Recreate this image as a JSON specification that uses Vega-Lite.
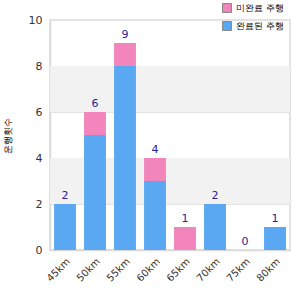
{
  "$schema": "https://vega.github.io/schema/vega-lite/v6.json",
  "autosize": "none",
  "padding": {"left": 50, "top": 20, "right": 10, "bottom": 50},
  "width": 240,
  "height": 230,
  "background": "white",
  "config": {
    "font": "DejaVu Sans",
    "view": {"stroke": "#d9d9d9", "strokeWidth": 1.5}
  },
  "datasets": {
    "bars": [
      {"dist": "45km", "type": "완료된 주행", "ord": 1, "n": 2},
      {"dist": "45km", "type": "미완료 주행", "ord": 2, "n": 0},
      {"dist": "50km", "type": "완료된 주행", "ord": 1, "n": 5},
      {"dist": "50km", "type": "미완료 주행", "ord": 2, "n": 1},
      {"dist": "55km", "type": "완료된 주행", "ord": 1, "n": 8},
      {"dist": "55km", "type": "미완료 주행", "ord": 2, "n": 1},
      {"dist": "60km", "type": "완료된 주행", "ord": 1, "n": 3},
      {"dist": "60km", "type": "미완료 주행", "ord": 2, "n": 1},
      {"dist": "65km", "type": "완료된 주행", "ord": 1, "n": 0},
      {"dist": "65km", "type": "미완료 주행", "ord": 2, "n": 1},
      {"dist": "70km", "type": "완료된 주행", "ord": 1, "n": 2},
      {"dist": "70km", "type": "미완료 주행", "ord": 2, "n": 0},
      {"dist": "75km", "type": "완료된 주행", "ord": 1, "n": 0},
      {"dist": "75km", "type": "미완료 주행", "ord": 2, "n": 0},
      {"dist": "80km", "type": "완료된 주행", "ord": 1, "n": 1},
      {"dist": "80km", "type": "미완료 주행", "ord": 2, "n": 0}
    ],
    "totals": [
      {"dist": "45km", "total": 2},
      {"dist": "50km", "total": 6},
      {"dist": "55km", "total": 9},
      {"dist": "60km", "total": 4},
      {"dist": "65km", "total": 1},
      {"dist": "70km", "total": 2},
      {"dist": "75km", "total": 0},
      {"dist": "80km", "total": 1}
    ],
    "bands": [
      {"lo": 2, "hi": 4},
      {"lo": 6, "hi": 8}
    ]
  },
  "layer": [
    {
      "data": {"name": "bands"},
      "mark": {"type": "rect", "color": "#f2f2f2"},
      "encoding": {
        "y": {"field": "lo", "type": "quantitative", "scale": {"domain": [0, 10]}},
        "y2": {"field": "hi"}
      }
    },
    {
      "data": {"name": "bars"},
      "mark": {"type": "bar"},
      "encoding": {
        "x": {
          "field": "dist", "type": "nominal", "sort": null,
          "scale": {"paddingInner": 0.27, "paddingOuter": 0.135},
          "axis": {
            "title": null, "labelAngle": -45, "labelFontSize": 10, "labelColor": "#333",
            "ticks": false, "domainColor": "#d9d9d9", "domainWidth": 1.5, "labelPadding": 6
          }
        },
        "y": {
          "field": "n", "type": "quantitative", "stack": "zero",
          "scale": {"domain": [0, 10]},
          "axis": {
            "title": "운행횟수", "titleFontSize": 9, "titleFontWeight": "normal", "titleColor": "#000",
            "titleX": -38, "titleY": 115,
            "values": [0, 2, 4, 6, 8, 10], "labelFontSize": 11, "labelColor": "#333",
            "ticks": false, "labelPadding": 8, "domainColor": "#d9d9d9", "domainWidth": 1.5,
            "gridColor": "#e3e3e3", "gridWidth": 1
          }
        },
        "color": {
          "field": "type", "type": "nominal",
          "scale": {"domain": ["미완료 주행", "완료된 주행"], "range": ["#f285bb", "#5ba8f2"]},
          "legend": {
            "title": null, "orient": "none", "legendX": 172, "legendY": -17,
            "symbolType": "square", "symbolSize": 80, "symbolStrokeColor": "#888", "symbolStrokeWidth": 1,
            "labelFontSize": 9, "labelColor": "#000", "rowPadding": 4
          }
        },
        "order": {"field": "ord", "type": "quantitative"}
      }
    },
    {
      "data": {"name": "totals"},
      "mark": {"type": "text", "dy": -8, "color": "#23239a", "fontSize": 11},
      "encoding": {
        "x": {"field": "dist", "type": "nominal", "sort": null},
        "y": {"field": "total", "type": "quantitative"},
        "text": {"field": "total", "type": "quantitative"}
      }
    }
  ]
}
